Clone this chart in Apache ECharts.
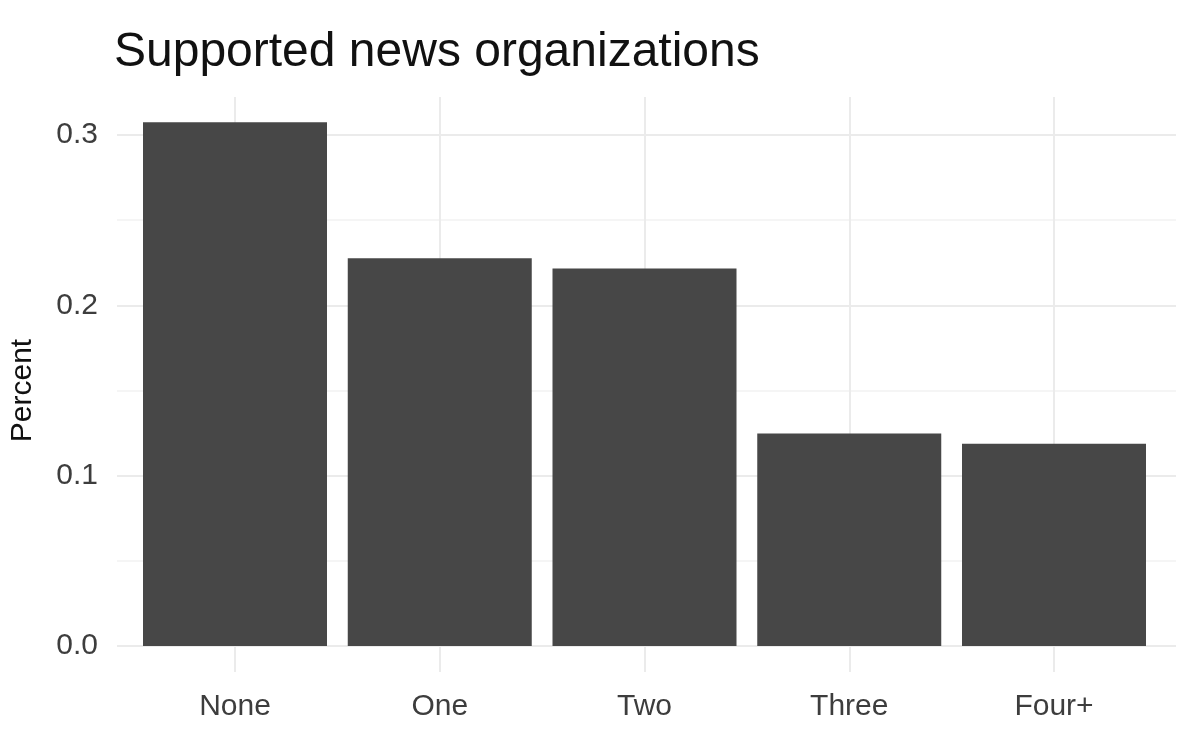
<!DOCTYPE html>
<html>
<head>
<meta charset="utf-8">
<script src="https://cdn.jsdelivr.net/npm/echarts@6/dist/echarts.min.js"></script>
<style>
html,body{margin:0;padding:0;background:#fff;}
#chart{width:1188px;height:740px;}
</style>
</head>
<body>
<div id="chart"></div>
<script>
var categories = ['None', 'One', 'Two', 'Three', 'Four+'];
var percentValues = [0.308, 0.228, 0.222, 0.125, 0.119];
var yTicks = [0.0, 0.1, 0.2, 0.3];
var titleText = 'Supported news organizations';
var yAxisName = 'Percent';

var FONT = '"Liberation Sans", Arial, Helvetica, sans-serif';
var chart = echarts.init(document.getElementById('chart'), null, {renderer: 'canvas'});
var option = {
  backgroundColor: '#ffffff',
  animation: false,
  title: {
    text: titleText,
    left: 109,
    top: 24,
    textStyle: {fontFamily: FONT, fontSize: 48, fontWeight: 'normal', color: '#111111'}
  },
  grid: [
    {left: 113, right: 12, top: 135, bottom: 94, containLabel: false},
    {left: 235, right: 134, top: 97, bottom: 68, containLabel: false}
  ],
  xAxis: [
    {type: 'value', gridIndex: 0, min: 0, max: 1, show: false},
    {
      type: 'category', gridIndex: 1, data: categories, boundaryGap: false,
      axisLine: {show: false}, axisTick: {show: false},
      axisLabel: {interval: 0, margin: 20, fontFamily: FONT, fontSize: 30, color: '#3d3d3d'},
      splitLine: {show: true, interval: 0, lineStyle: {color: '#ebebeb', width: 2}}
    }
  ],
  yAxis: [
    {
      type: 'value', gridIndex: 0, min: yTicks[0], max: yTicks[yTicks.length - 1], interval: 0.1,
      name: yAxisName, nameLocation: 'middle', nameGap: 79, nameRotate: 90,
      nameTextStyle: {fontFamily: FONT, fontSize: 30, color: '#111111'},
      axisLine: {show: false}, axisTick: {show: false},
      axisLabel: {margin: 19, fontFamily: FONT, fontSize: 30, color: '#3d3d3d',
        formatter: function (v) { return v.toFixed(1); }},
      splitLine: {show: true, lineStyle: {color: '#ebebeb', width: 2}},
      minorTick: {show: false, splitNumber: 2},
      minorSplitLine: {show: true, lineStyle: {color: '#f2f2f2', width: 1.5}}
    },
    {type: 'value', gridIndex: 1, min: -0.0153, max: 0.3229, show: false}
  ],
  series: [
    {
      type: 'bar', xAxisIndex: 1, yAxisIndex: 1, data: percentValues,
      barWidth: 184, clip: false,
      itemStyle: {color: '#474747'},
      silent: true
    }
  ]
};
chart.setOption(option);
</script>
</body>
</html>
